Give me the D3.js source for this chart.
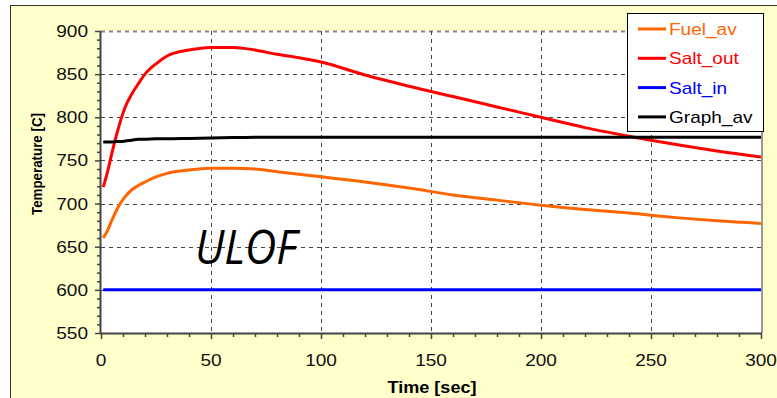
<!DOCTYPE html>
<html>
<head>
<meta charset="utf-8">
<script src="https://cdn.jsdelivr.net/npm/d3@7"></script>
<style>
  body { margin: 0; background: #fff; }
  svg { display: block; font-family: Arial, "Liberation Sans", sans-serif; }
</style>
</head>
<body>
<div id="chart"></div>
<script>
// time axis (sec) and the four temperature series (C)
const times    = [1, 3, 5, 7, 9, 11, 14, 17, 20, 25, 30, 40, 50, 60, 70, 80, 90, 100, 120, 140, 160, 180, 200, 220, 240, 260, 280, 300];
const fuelAv   = [660, 669, 681, 692, 701, 708, 716, 721, 725, 731, 735, 739, 741, 741, 740, 737, 734, 731, 725, 718, 710, 704, 698, 693, 689, 684, 680, 677];
const saltOut  = [719, 737, 759, 779, 797, 812, 827, 839, 850, 862, 871, 878, 881, 881, 878, 873, 869, 864, 849, 836, 824, 812, 800, 788, 778, 769, 761, 754];
const saltIn   = [600, 600, 600, 600, 600, 600, 600, 600, 600, 600, 600, 600, 600, 600, 600, 600, 600, 600, 600, 600, 600, 600, 600, 600, 600, 600, 600, 600];
const graphAv  = [771.5, 771.5, 771.5, 772, 772, 772.5, 773.5, 774.5, 774.5, 775, 775, 775.5, 776, 776.5, 777, 777, 777, 777, 777, 777, 777, 777, 777, 777, 777, 777, 777, 777];

const seriesNames = ["Fuel_av", "Salt_out", "Salt_in", "Graph_av"];
const seriesColors = ["#FF6600", "#FF0000", "#0000FF", "#000000"];
const seriesValues = [fuelAv, saltOut, saltIn, graphAv];

const xTicks = [0, 50, 100, 150, 200, 250, 300];
const yTicks = [550, 600, 650, 700, 750, 800, 850, 900];

const W = 777, H = 398;
const plot = { left: 101, right: 761, top: 31, bottom: 333 };
const stretch = 1.12; // the original text is a little wider than Arial

const svg = d3.select("#chart").append("svg")
  .attr("width", W).attr("height", H);

// outer yellow frame
svg.append("rect")
  .attr("x", 10.5).attr("y", 5.5)
  .attr("width", W + 10).attr("height", H + 10)
  .attr("fill", "#FFFFCC")
  .attr("stroke", "#333").attr("stroke-width", 1);

const x = d3.scaleLinear().domain([0, 300]).range([plot.left, plot.right]);
const y = d3.scaleLinear().domain([550, 900]).range([plot.bottom, plot.top]);

// plot area
svg.append("rect")
  .attr("x", plot.left).attr("y", plot.top)
  .attr("width", plot.right - plot.left).attr("height", plot.bottom - plot.top)
  .attr("fill", "#fff");

// grid
const grid = svg.append("g").attr("stroke", "#444").attr("stroke-width", 1).attr("stroke-dasharray", "4,4");
grid.selectAll(".hg").data(yTicks.filter(d => d > 550)).enter().append("line")
  .attr("x1", plot.left).attr("x2", plot.right)
  .attr("y1", d => Math.round(y(d)) + 0.5).attr("y2", d => Math.round(y(d)) + 0.5)
  .attr("stroke", d => d === 900 ? "#888" : "#444")
  .attr("stroke-width", d => d === 900 ? 2 : 1);
grid.selectAll(".vg").data(xTicks.filter(d => d > 0 && d < 300)).enter().append("line")
  .attr("x1", d => Math.round(x(d)) + 0.5).attr("x2", d => Math.round(x(d)) + 0.5)
  .attr("y1", plot.top).attr("y2", plot.bottom);

// right border of plot area
svg.append("line")
  .attr("x1", plot.right + 1).attr("x2", plot.right + 1)
  .attr("y1", plot.top).attr("y2", plot.bottom)
  .attr("stroke", "#999").attr("stroke-width", 2);

// series lines
const line = d3.line()
  .x((d, i) => x(times[i]))
  .y(d => y(d))
  .curve(d3.curveMonotoneX);

seriesValues.forEach((vals, k) => {
  svg.append("path")
    .datum(vals)
    .attr("fill", "none")
    .attr("stroke", seriesColors[k])
    .attr("stroke-width", 3)
    .attr("stroke-linejoin", "round")
    .attr("d", line);
});

// axes
const xAxis = d3.axisBottom(x).tickValues(d3.range(0, 301, 10)).tickSize(5).tickFormat("");
const gx = svg.append("g").attr("transform", `translate(0,${plot.bottom})`).call(xAxis);
gx.selectAll("line").attr("stroke", "#444").attr("stroke-width", 1.5)
  .attr("y2", d => d % 50 === 0 ? 6 : 4);
gx.select(".domain").attr("stroke", "#444").attr("stroke-width", 2).attr("d", `M${plot.left - 1},0.5H${plot.right + 1}`);

const yAxis = d3.axisLeft(y).tickValues(d3.range(550, 901, 10)).tickSize(5).tickFormat("");
const gy = svg.append("g").attr("transform", `translate(${plot.left},0)`).call(yAxis);
gy.selectAll("line").attr("stroke", "#444").attr("stroke-width", 1.5)
  .attr("x2", d => d % 50 === 0 ? -6 : -4);
gy.select(".domain").attr("stroke", "#444").attr("stroke-width", 2).attr("d", `M-0.5,${plot.top}V${plot.bottom + 1}`);

// tick labels
svg.selectAll(".xl").data(xTicks).enter().append("text")
  .attr("transform", d => `translate(${x(d)},366) scale(${stretch},1)`)
  .attr("text-anchor", "middle")
  .attr("font-size", 17)
  .attr("fill", "#111")
  .text(d => d);
svg.selectAll(".yl").data(yTicks).enter().append("text")
  .attr("transform", d => `translate(88,${y(d) + 6}) scale(${stretch},1)`)
  .attr("text-anchor", "end")
  .attr("font-size", 17)
  .attr("fill", "#111")
  .text(d => d);

// axis titles
svg.append("text")
  .attr("x", 432).attr("y", 393)
  .attr("text-anchor", "middle")
  .attr("font-size", 17).attr("font-weight", "bold")
  .attr("textLength", 89).attr("lengthAdjust", "spacingAndGlyphs")
  .text("Time [sec]");
svg.append("text")
  .attr("transform", "translate(42,164) rotate(-90)")
  .attr("text-anchor", "middle")
  .attr("font-size", 14).attr("font-weight", "bold")
  .attr("textLength", 102).attr("lengthAdjust", "spacingAndGlyphs")
  .text("Temperature  [C]");

// scenario label
svg.append("text")
  .attr("x", 195).attr("y", 264)
  .attr("font-family", "'Open Sans', sans-serif")
  .attr("font-style", "italic")
  .attr("font-size", 48)
  .attr("textLength", 102).attr("lengthAdjust", "spacingAndGlyphs")
  .text("ULOF");

// legend
const lg = svg.append("g");
lg.append("rect")
  .attr("x", 627.5).attr("y", 13.5).attr("width", 136).attr("height", 118)
  .attr("fill", "#fff").attr("stroke", "#000").attr("stroke-width", 1);
seriesNames.forEach((name, k) => {
  const cy = 29 + k * 29.3;
  lg.append("line")
    .attr("x1", 638).attr("x2", 666).attr("y1", cy).attr("y2", cy)
    .attr("stroke", seriesColors[k]).attr("stroke-width", 3);
  lg.append("text")
    .attr("transform", `translate(669,${cy + 6}) scale(${stretch},1)`)
    .attr("font-size", 17)
    .attr("fill", seriesColors[k])
    .text(name);
});
</script>
</body>
</html>
